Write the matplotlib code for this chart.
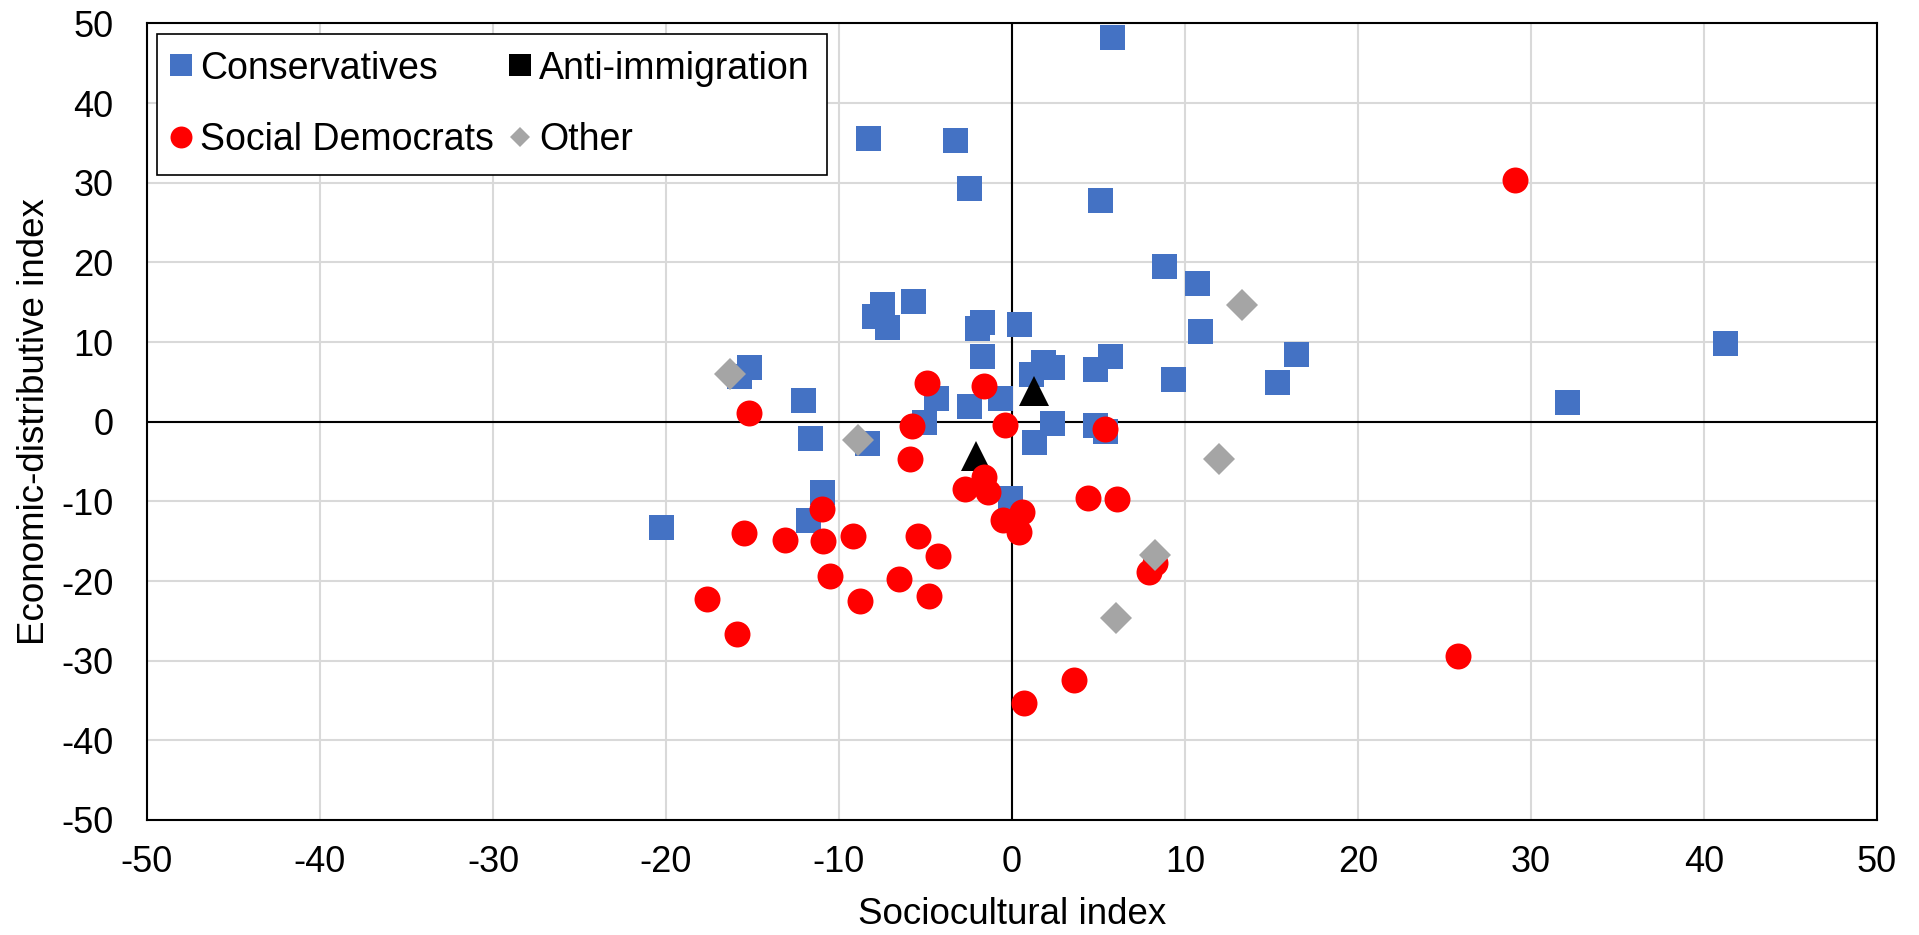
import matplotlib.pyplot as plt
from matplotlib.lines import Line2D

plt.rcParams['font.family'] = ['Liberation Sans', 'DejaVu Sans']
plt.rcParams['axes.unicode_minus'] = False

# Conservatives
cons_x = [5.8, -8.3, -3.3, -2.5, 5.1, 8.8, 10.7, 10.9, 9.3, 15.3, 16.4, 32.1, 41.2,
          -7.5, -5.7, -8.0, -7.2, -1.7, -2.0, 0.4, -1.7, -15.2, -15.8, -12.1, -11.7,
          -8.4, -4.4, -5.1, -2.5, -0.7, 1.1, 1.8, 2.3, 2.3, 1.3, 4.8, 5.7, 4.8, 5.4,
          -11.0, -11.8, -20.3, -0.1]
cons_y = [48.3, 35.6, 35.4, 29.3, 27.8, 19.5, 17.4, 11.4, 5.4, 5.0, 8.5, 2.5, 9.9,
          14.8, 15.1, 13.3, 11.9, 12.5, 11.8, 12.3, 8.3, 6.9, 5.7, 2.7, -2.0,
          -2.7, 3.0, 0.0, 2.0, 3.0, 6.0, 7.5, 6.9, -0.2, -2.5, 6.6, 8.2, -0.4, -1.2,
          -8.8, -12.3, -13.2, -9.6]

# Social Democrats
sd_x = [29.1, -4.9, -1.6, -15.2, -5.8, -0.4, 5.4, -5.9, -1.6, -2.7, -1.4, 0.6, -0.5,
        0.4, 4.4, 6.1, -11.0, -15.5, -13.1, -10.9, -9.2, -5.4, -4.3, -10.5, -6.5,
        -4.8, -8.8, -17.6, -15.9, 3.6, 0.7, 7.9, 8.3, 25.8]
sd_y = [30.3, 4.9, 4.5, 1.1, -0.5, -0.4, -0.9, -4.7, -6.9, -8.5, -8.8, -11.4, -12.3,
        -13.8, -9.6, -9.7, -10.9, -14.0, -14.9, -15.0, -14.3, -14.3, -16.9, -19.4, -19.8,
        -21.9, -22.5, -22.3, -26.6, -32.4, -35.3, -18.9, -17.8, -29.4]

# Anti-immigration
anti_x = [1.3, -2.1]
anti_y = [3.9, -4.3]

# Other
other_x = [-16.3, -8.9, 13.3, 12.0, 8.3, 6.0]
other_y = [6.0, -2.3, 14.6, -4.7, -16.7, -24.6]

ticks = [-50, -40, -30, -20, -10, 0, 10, 20, 30, 40, 50]

blue = '#4472C4'
red = '#FF0000'
gray = '#A5A5A5'

fig = plt.figure(figsize=(19.19, 9.35), dpi=100)
ax = fig.add_axes([0.0766, 0.123, 0.9014, 0.852])

ax.plot(cons_x, cons_y, ls='none', marker='s', ms=18, mew=0, color=blue, zorder=3)
ax.plot(anti_x, anti_y, ls='none', marker='^', ms=21, mew=0, color='black', zorder=4)
ax.plot(sd_x, sd_y, ls='none', marker='o', ms=18.7, mew=0, color=red, zorder=5)
ax.plot(other_x, other_y, ls='none', marker='D', ms=15.8, mew=0, color=gray, zorder=6)

ax.set_xlim(-50, 50)
ax.set_ylim(-50, 50)
ax.set_xticks(ticks)
ax.set_yticks(ticks)
ax.tick_params(length=0, labelsize=26)
ax.tick_params(axis='x', pad=18)
ax.tick_params(axis='y', pad=24)
ax.grid(True, color='#D9D9D9', lw=1.5, zorder=0)
ax.set_axisbelow(True)
ax.axhline(0, color='black', lw=1.5, zorder=2)
ax.axvline(0, color='black', lw=1.5, zorder=2)
for s in ax.spines.values():
    s.set_linewidth(1.5)
    s.set_color('black')

ax.set_xlabel('Sociocultural index', fontsize=26.5, labelpad=12)
ax.set_ylabel('Economic-distributive index', fontsize=26.5, labelpad=7)

# legend shows a black square for the triangle series, like the original
handles = [
    Line2D([], [], ls='none', marker='s', ms=15.8, mew=0, color=blue),
    Line2D([], [], ls='none', marker='o', ms=15.8, mew=0, color=red),
    Line2D([], [], ls='none', marker='s', ms=15.8, mew=0, color='black'),
    Line2D([], [], ls='none', marker='D', ms=9.7, mew=0, color=gray),
]
labels = ['Conservatives', 'Social Democrats', 'Anti-immigration', 'Other']
leg = ax.legend(handles, labels, ncol=2, loc='upper left', bbox_to_anchor=(0.006, 0.987),
                fontsize=27, frameon=True, fancybox=False, framealpha=1,
                edgecolor='black', handlelength=0.35, handletextpad=0.35,
                columnspacing=0.5, labelspacing=0.95, borderpad=0.45, borderaxespad=0)
leg.get_frame().set_linewidth(1.2)
leg.set_zorder(10)

fig.savefig('out.png', dpi=100)
